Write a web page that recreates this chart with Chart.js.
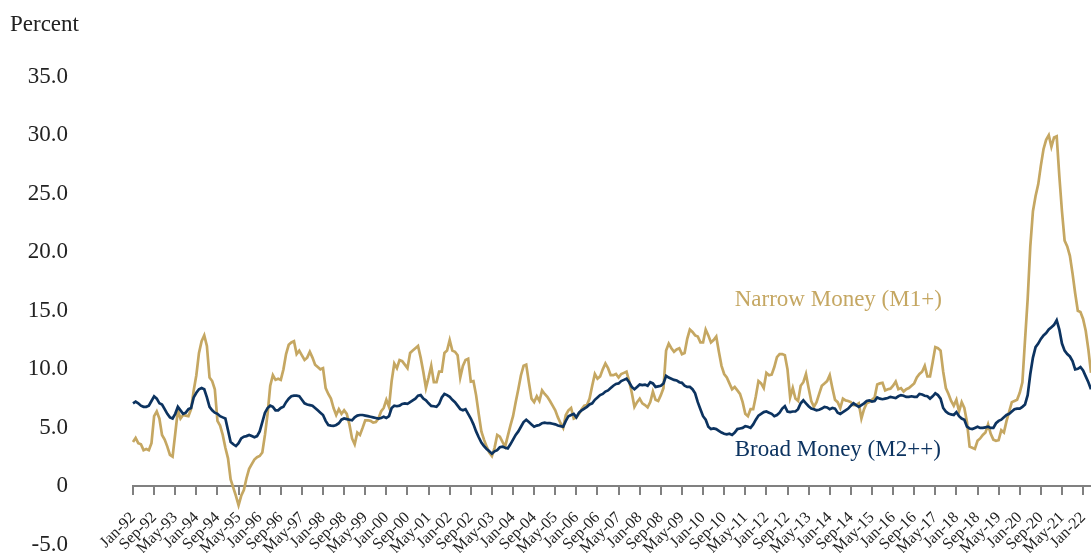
<!DOCTYPE html>
<html>
<head>
<meta charset="utf-8">
<script src="https://cdn.jsdelivr.net/npm/chart.js@4/dist/chart.umd.min.js"></script>
<style>
    html, body { margin: 0; padding: 0; background: #fff; }
    #wrap { width: 1091px; height: 553px; }
</style>
</head>
<body>
<div id="wrap"><canvas id="moneyChart" width="1091" height="553"></canvas></div>
<script>
// Monthly year-over-year growth, Jan-92 .. Apr-22
const monthNames = ['Jan', 'Feb', 'Mar', 'Apr', 'May', 'Jun', 'Jul', 'Aug', 'Sep', 'Oct', 'Nov', 'Dec'];
const firstYear = 1992;

const broadMoney = [
    7.1, 7.25, 7.1, 6.9, 6.8, 6.8, 6.9, 7.3, 7.7, 7.5, 7.1, 7.0,          // 1992
    6.6, 6.2, 5.9, 5.8, 6.2, 6.8, 6.5, 6.2, 6.3, 6.6, 6.7, 7.6,           // 1993
    8.0, 8.3, 8.4, 8.3, 7.6, 6.8, 6.5, 6.3, 6.2, 6.0, 5.9, 5.8,           // 1994
    4.8, 3.8, 3.6, 3.45, 3.7, 4.1, 4.25, 4.3, 4.4, 4.3, 4.2, 4.3,         // 1995
    4.7, 5.5, 6.3, 6.7, 6.9, 6.8, 6.5, 6.5, 6.7, 6.8, 7.2, 7.5,           // 1996
    7.7, 7.75, 7.75, 7.7, 7.4, 7.1, 7.0, 6.95, 6.9, 6.7, 6.5, 6.3,        // 1997
    6.1, 5.6, 5.25, 5.2, 5.17, 5.25, 5.4, 5.7, 5.8, 5.75, 5.7, 5.65,      // 1998
    5.9, 6.05, 6.1, 6.1, 6.05, 6.0, 5.95, 5.9, 5.85, 5.8, 5.85, 5.95,     // 1999
    5.85, 6.0, 6.7, 6.9, 6.85, 6.9, 7.05, 7.1, 7.05, 7.2, 7.35, 7.5,      // 2000
    7.75, 7.8, 7.5, 7.35, 7.1, 6.88, 6.85, 6.8, 7.05, 7.6, 7.9, 7.8,      // 2001
    7.65, 7.4, 7.2, 6.9, 6.6, 6.5, 6.6, 6.2, 5.8, 5.3, 4.7, 4.2,          // 2002
    3.75, 3.45, 3.2, 3.0, 2.8, 3.0, 3.1, 3.35, 3.4, 3.3, 3.25, 3.6,       // 2003
    4.0, 4.4, 4.7, 5.1, 5.5, 5.7, 5.5, 5.3, 5.1, 5.2, 5.25, 5.4,          // 2004
    5.45, 5.4, 5.4, 5.35, 5.3, 5.2, 5.15, 5.1, 5.6, 6.0, 6.1, 6.2,        // 2005
    5.9, 6.3, 6.5, 6.65, 6.8, 7.0, 7.1, 7.4, 7.6, 7.8, 7.9, 8.1,          // 2006
    8.2, 8.4, 8.6, 8.75, 8.8, 9.0, 9.1, 9.2, 8.9, 8.5, 8.3, 8.5,          // 2007
    8.7, 8.65, 8.7, 8.6, 8.9, 8.8, 8.5, 8.55, 8.6, 8.8, 9.45, 9.3,        // 2008
    9.2, 9.1, 9.05, 8.9, 8.85, 8.6, 8.5, 8.5, 8.3, 7.95, 7.2, 6.6,        // 2009
    6.0, 5.7, 5.1, 4.9, 4.95, 4.9, 4.75, 4.6, 4.5, 4.45, 4.5, 4.4,        // 2010
    4.6, 4.9, 4.95, 5.0, 5.15, 5.1, 5.0, 5.3, 5.7, 6.05, 6.2, 6.35,       // 2011
    6.4, 6.3, 6.2, 6.0, 6.1, 6.3, 6.65, 6.85, 6.4, 6.35, 6.4, 6.4,        // 2012
    6.6, 7.1, 7.35, 7.1, 6.85, 6.65, 6.6, 6.5, 6.55, 6.65, 6.8, 6.75,     // 2013
    6.6, 6.7, 6.65, 6.3, 6.2, 6.35, 6.5, 6.65, 6.9, 7.1, 6.95, 6.8,       // 2014
    6.95, 7.1, 7.3, 7.35, 7.25, 7.3, 7.6, 7.5, 7.45, 7.5, 7.55, 7.65,     // 2015
    7.6, 7.55, 7.7, 7.8, 7.75, 7.65, 7.65, 7.7, 7.65, 7.65, 7.9, 7.85,    // 2016
    7.75, 7.7, 7.5, 7.7, 7.95, 7.8, 7.5, 6.7, 6.4, 6.22, 6.15, 6.1,       // 2017
    6.35, 6.0, 5.8, 5.7, 5.1, 4.95, 4.9, 5.0, 5.1, 5.0, 5.0, 5.05,        // 2018
    5.1, 5.0, 5.0, 5.4, 5.6, 5.7, 5.9, 6.1, 6.2, 6.4, 6.6, 6.65,          // 2019
    6.65, 6.8, 7.0, 7.8, 9.6, 11.0, 11.9, 12.2, 12.6, 12.9, 13.1, 13.4,   // 2020
    13.6, 13.8, 14.2, 13.4, 12.2, 11.6, 11.3, 11.1, 10.7, 10.0, 10.05, 10.2, // 2021
    9.9, 9.4, 8.9, 8.3                                                     // 2022
];

const narrowMoney = [
    3.8, 4.15, 3.7, 3.6, 3.1, 3.2, 3.1, 3.7, 6.0, 6.4, 5.8, 4.4,          // 1992
    4.0, 3.4, 2.7, 2.55, 4.5, 6.5, 5.8, 6.1, 6.05, 6.0, 6.6, 8.2,         // 1993
    9.5, 11.4, 12.4, 12.9, 12.0, 9.3, 9.0, 8.3, 5.6, 5.2, 4.4, 3.3,       // 1994
    2.4, 0.6, -0.1, -0.8, -1.6, -0.8, -0.3, 0.7, 1.5, 1.9, 2.3, 2.5,      // 1995
    2.6, 2.9, 4.4, 6.2, 8.6, 9.5, 9.1, 9.2, 9.1, 10.0, 11.3, 12.1,        // 1996
    12.3, 12.4, 11.3, 11.6, 11.2, 10.8, 11.0, 11.5, 11.0, 10.4, 10.2, 10.0, // 1997
    10.1, 8.4, 7.9, 7.5, 6.7, 6.1, 6.6, 6.2, 6.5, 6.2, 5.3, 4.1,          // 1998
    3.6, 4.6, 4.4, 5.0, 5.65, 5.65, 5.6, 5.45, 5.5, 5.8, 6.4, 6.7,        // 1999
    7.4, 6.8, 9.0, 10.5, 10.1, 10.8, 10.7, 10.4, 10.1, 11.4, 11.6, 11.8,  // 2000
    12.0, 11.0, 9.8, 8.4, 9.3, 10.3, 8.9, 8.9, 9.8, 9.8, 11.4, 11.6,      // 2001
    12.5, 11.6, 11.5, 11.2, 9.3, 10.3, 10.8, 10.9, 8.95, 9.0, 7.8, 6.2,   // 2002
    4.7, 4.0, 3.4, 2.9, 2.6, 3.3, 4.4, 4.25, 3.8, 3.4, 4.3, 5.2,          // 2003
    6.0, 7.2, 8.3, 9.5, 10.3, 10.4, 8.9, 7.5, 7.2, 7.7, 7.3, 8.2,         // 2004
    7.9, 7.65, 7.3, 6.9, 6.5, 5.9, 5.4, 5.0, 6.1, 6.5, 6.7, 5.8,          // 2005
    5.9, 6.2, 6.6, 6.9, 6.95, 7.5, 8.6, 9.6, 9.2, 9.4, 10.0, 10.5,        // 2006
    10.1, 9.5, 9.5, 9.6, 9.3, 9.6, 9.7, 9.8, 9.0, 8.0, 6.8, 7.2,          // 2007
    7.5, 7.1, 6.95, 6.75, 7.2, 8.1, 7.4, 7.3, 7.8, 8.4, 11.6, 12.2,       // 2008
    11.8, 11.5, 11.7, 11.8, 11.3, 11.4, 12.6, 13.4, 13.2, 12.9, 12.8, 12.3, // 2009
    12.3, 13.4, 12.9, 12.3, 12.5, 12.8, 11.5, 10.3, 9.6, 9.3, 8.8, 8.3,   // 2010
    8.5, 8.2, 7.9, 7.2, 6.2, 6.0, 6.6, 6.6, 7.7, 9.0, 8.8, 8.4,           // 2011
    9.7, 9.5, 9.55, 10.2, 11.05, 11.3, 11.3, 11.2, 10.0, 7.6, 8.4, 7.5,   // 2012
    7.3, 8.6, 8.9, 9.6, 8.4, 7.3, 6.8, 7.2, 7.9, 8.6, 8.8, 9.0,           // 2013
    9.5, 8.4, 7.4, 7.2, 6.7, 7.5, 7.35, 7.3, 7.2, 6.95, 6.95, 7.1,        // 2014
    5.8, 6.6, 7.1, 7.2, 7.4, 7.6, 8.7, 8.8, 8.85, 8.2, 8.3, 8.35,         // 2015
    8.6, 8.95, 8.3, 8.4, 8.1, 8.3, 8.4, 8.6, 8.8, 9.3, 9.6, 9.8,          // 2016
    10.3, 9.4, 9.4, 10.6, 11.9, 11.8, 11.6, 9.8, 8.4, 7.9, 7.3, 6.9,      // 2017
    7.4, 6.4, 7.2, 6.7, 5.5, 3.4, 3.3, 3.2, 3.9, 4.1, 4.4, 4.6,           // 2018
    5.3, 4.5, 4.0, 3.9, 3.95, 4.8, 4.6, 5.6, 6.4, 7.2, 7.3, 7.4,          // 2019
    8.0, 8.9, 12.5, 16.0, 20.5, 23.5, 24.8, 25.8, 27.4, 28.8, 29.6, 30.0, // 2020
    29.0, 29.8, 29.9, 26.5, 23.5, 21.0, 20.5, 19.7, 18.2, 16.5, 15.0, 14.9, // 2021
    14.3, 13.3, 11.7, 9.7                                                  // 2022
];

const yTicks = [-5, 0, 5, 10, 15, 20, 25, 30, 35];
const labelEvery = 8; // Jan-92, Sep-92, May-93 ...

const narrowColor = '#c5a762';
const broadColor = '#0c3360';
const axisGrey = '#808080';
const serif = '"Liberation Serif", "DejaVu Serif", serif';

// month labels like "Jan-92"
const monthLabels = broadMoney.map((_, i) => {
    const yy = (firstYear + Math.floor(i / 12)) % 100;
    return monthNames[i % 12] + '-' + String(yy).padStart(2, '0');
});

// in-chart series names, anchored to the scales
const seriesNotes = [
    { text: 'Narrow Money (M1+)', index: 228, value: 15.9, color: narrowColor },
    { text: 'Broad Money (M2++)', index: 228, value: 3.1, color: broadColor }
];

const seriesNotesPlugin = {
    id: 'seriesNotes',
    afterDatasetsDraw(chart) {
        const { ctx, scales } = chart;
        ctx.save();
        ctx.font = '23px ' + serif;
        ctx.textAlign = 'left';
        ctx.textBaseline = 'middle';
        seriesNotes.forEach(n => {
            ctx.fillStyle = n.color;
            ctx.fillText(n.text, scales.x.getPixelForValue(n.index), scales.y.getPixelForValue(n.value));
        });
        ctx.restore();
    }
};

new Chart(document.getElementById('moneyChart'), {
    type: 'line',
    data: {
        labels: monthLabels,
        datasets: [
            {
                label: 'Broad Money (M2++)',
                data: broadMoney,
                borderColor: broadColor,
                borderWidth: 2.7,
                pointRadius: 0,
                tension: 0
            },
            {
                label: 'Narrow Money (M1+)',
                data: narrowMoney,
                borderColor: narrowColor,
                borderWidth: 2.7,
                pointRadius: 0,
                tension: 0
            }
        ]
    },
    options: {
        responsive: false,
        animation: false,
        layout: { padding: { left: 10, right: 0, top: 0, bottom: 8 } },
        plugins: {
            legend: { display: false },
            tooltip: { enabled: false },
            title: {
                display: true,
                text: 'Percent',
                align: 'start',
                color: '#222',
                font: { family: serif, size: 23, weight: 'normal' },
                padding: { top: 11, bottom: 38 }
            }
        },
        scales: {
            x: {
                type: 'category',
                position: { y: 0 },
                offset: false,
                grid: {
                    drawOnChartArea: false,
                    drawTicks: true,
                    tickLength: 8,
                    lineWidth: 2,
                    tickColor: ctx => (ctx.index % labelEvery === 0 ? axisGrey : 'rgba(0,0,0,0)')
                },
                border: { display: true, color: axisGrey, width: 2 },
                ticks: {
                    autoSkip: false,
                    maxRotation: 45,
                    minRotation: 45,
                    padding: 14,
                    color: '#222',
                    font: { family: serif, size: 16 },
                    callback: function (val, i) {
                        return i % labelEvery === 0 ? this.getLabelForValue(val) : '';
                    }
                },
                afterFit: s => {
                    s.height = 0;
                    s.paddingLeft = 0;
                    s.paddingRight = 0;
                }
            },
            y: {
                min: -5,
                max: 35,
                grid: { display: false, drawTicks: false },
                border: { display: false },
                afterBuildTicks: s => { s.ticks = yTicks.map(v => ({ value: v })); },
                ticks: {
                    padding: 65,
                    color: '#222',
                    font: { family: serif, size: 23 },
                    callback: v => (v === 0 ? '0' : v.toFixed(1))
                },
                afterFit: s => {
                    s.width = 123;
                    s.paddingTop = 0;
                    s.paddingBottom = 0;
                }
            }
        }
    },
    plugins: [seriesNotesPlugin]
});
</script>
</body>
</html>
